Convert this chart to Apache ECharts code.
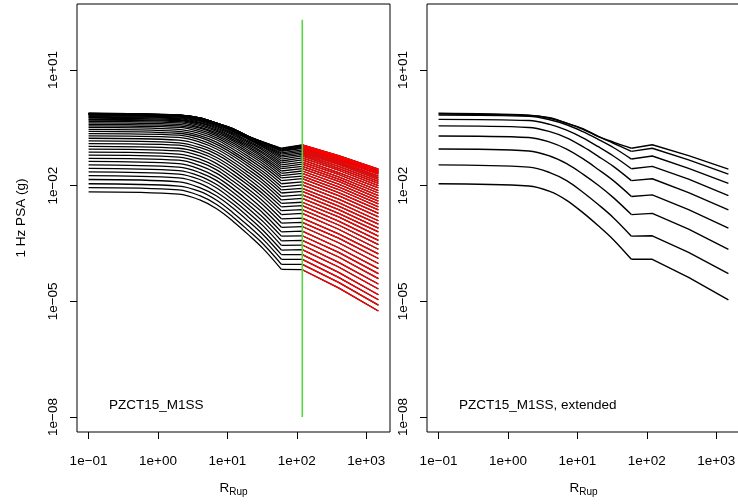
<!DOCTYPE html>
<html>
<head>
<meta charset="utf-8">
<script src="https://cdn.jsdelivr.net/npm/echarts@6/dist/echarts.min.js"></script>
<style>
  html, body { margin: 0; padding: 0; background: #fff; }
  #chart { width: 738px; height: 504px; }
</style>
</head>
<body>
<div id="chart"></div>
<script>
// Rupture distances (km) at which the PSA values are tabulated.
const distances = [0.1, 2, 4, 7, 12, 20, 33, 60, 120, 400, 1500];
// Index of the hinge distance (end of the smooth near-source part).
const hingeIndex = 7;
// Index of the first distance of the extrapolated range (drawn in red).
const extrapStart = 8;
const cutoffDistance = 120;
const cutoffPSA = [1e-8, 200];

// log10 of 1 Hz PSA (g); one row per magnitude, M 3.8 to 8.0 by 0.1.
const leftLogPSA = [
  [-2.16, -2.22, -2.37, -2.60, -2.92, -3.27, -3.64, -4.17, -4.18, -4.65, -5.25],
  [-2.05, -2.11, -2.26, -2.49, -2.81, -3.16, -3.52, -4.04, -4.04, -4.51, -5.10],
  [-1.95, -2.01, -2.15, -2.38, -2.70, -3.04, -3.40, -3.91, -3.91, -4.38, -4.96],
  [-1.84, -1.90, -2.05, -2.27, -2.58, -2.92, -3.28, -3.79, -3.79, -4.25, -4.83],
  [-1.74, -1.80, -1.94, -2.17, -2.47, -2.81, -3.17, -3.67, -3.66, -4.11, -4.68],
  [-1.64, -1.70, -1.84, -2.06, -2.37, -2.70, -3.05, -3.55, -3.54, -3.99, -4.55],
  [-1.55, -1.61, -1.75, -1.97, -2.27, -2.59, -2.94, -3.43, -3.42, -3.85, -4.41],
  [-1.46, -1.52, -1.66, -1.87, -2.17, -2.49, -2.83, -3.31, -3.30, -3.73, -4.28],
  [-1.37, -1.43, -1.57, -1.78, -2.07, -2.39, -2.72, -3.20, -3.18, -3.61, -4.15],
  [-1.29, -1.34, -1.48, -1.68, -1.97, -2.28, -2.62, -3.08, -3.06, -3.48, -4.02],
  [-1.21, -1.26, -1.39, -1.59, -1.88, -2.18, -2.51, -2.97, -2.95, -3.36, -3.89],
  [-1.13, -1.18, -1.31, -1.51, -1.79, -2.09, -2.41, -2.86, -2.84, -3.25, -3.77],
  [-1.05, -1.10, -1.23, -1.43, -1.70, -1.99, -2.31, -2.75, -2.72, -3.13, -3.65],
  [-0.98, -1.03, -1.15, -1.34, -1.61, -1.91, -2.22, -2.65, -2.62, -3.02, -3.53],
  [-0.91, -0.95, -1.08, -1.27, -1.53, -1.82, -2.13, -2.55, -2.52, -2.92, -3.42],
  [-0.84, -0.89, -1.01, -1.19, -1.45, -1.74, -2.04, -2.46, -2.43, -2.81, -3.31],
  [-0.77, -0.82, -0.94, -1.12, -1.38, -1.66, -1.95, -2.37, -2.33, -2.72, -3.20],
  [-0.71, -0.75, -0.87, -1.05, -1.30, -1.58, -1.87, -2.28, -2.24, -2.62, -3.10],
  [-0.65, -0.69, -0.81, -0.99, -1.23, -1.50, -1.79, -2.19, -2.15, -2.53, -3.00],
  [-0.59, -0.64, -0.75, -0.93, -1.17, -1.43, -1.71, -2.11, -2.07, -2.44, -2.91],
  [-0.54, -0.59, -0.70, -0.87, -1.11, -1.37, -1.64, -2.03, -1.98, -2.35, -2.81],
  [-0.49, -0.54, -0.65, -0.81, -1.05, -1.30, -1.57, -1.95, -1.90, -2.26, -2.72],
  [-0.45, -0.49, -0.60, -0.76, -0.99, -1.24, -1.50, -1.87, -1.82, -2.18, -2.63],
  [-0.41, -0.45, -0.55, -0.71, -0.94, -1.18, -1.44, -1.80, -1.75, -2.10, -2.55],
  [-0.37, -0.41, -0.51, -0.67, -0.89, -1.13, -1.38, -1.74, -1.68, -2.03, -2.47],
  [-0.33, -0.37, -0.48, -0.63, -0.84, -1.08, -1.33, -1.68, -1.62, -1.96, -2.40],
  [-0.30, -0.34, -0.44, -0.59, -0.80, -1.03, -1.28, -1.62, -1.56, -1.89, -2.33],
  [-0.28, -0.31, -0.41, -0.56, -0.76, -0.99, -1.23, -1.56, -1.50, -1.83, -2.26],
  [-0.25, -0.29, -0.38, -0.53, -0.73, -0.95, -1.18, -1.51, -1.44, -1.77, -2.19],
  [-0.23, -0.26, -0.36, -0.50, -0.69, -0.91, -1.14, -1.46, -1.39, -1.71, -2.13],
  [-0.21, -0.24, -0.33, -0.47, -0.66, -0.87, -1.09, -1.41, -1.33, -1.66, -2.06],
  [-0.19, -0.22, -0.31, -0.44, -0.63, -0.84, -1.05, -1.36, -1.28, -1.60, -2.00],
  [-0.17, -0.20, -0.29, -0.42, -0.60, -0.80, -1.01, -1.31, -1.23, -1.55, -1.94],
  [-0.16, -0.20, -0.28, -0.41, -0.59, -0.78, -0.99, -1.26, -1.19, -1.50, -1.89],
  [-0.15, -0.19, -0.27, -0.40, -0.57, -0.77, -0.96, -1.22, -1.15, -1.45, -1.84],
  [-0.15, -0.18, -0.26, -0.39, -0.56, -0.75, -0.94, -1.18, -1.11, -1.41, -1.80],
  [-0.14, -0.18, -0.26, -0.39, -0.55, -0.74, -0.92, -1.15, -1.07, -1.37, -1.75],
  [-0.14, -0.18, -0.25, -0.38, -0.54, -0.73, -0.90, -1.11, -1.03, -1.33, -1.70],
  [-0.13, -0.17, -0.25, -0.38, -0.53, -0.72, -0.89, -1.09, -1.01, -1.30, -1.67],
  [-0.13, -0.17, -0.24, -0.38, -0.53, -0.72, -0.88, -1.07, -0.99, -1.27, -1.64],
  [-0.13, -0.17, -0.24, -0.38, -0.52, -0.72, -0.88, -1.05, -0.97, -1.26, -1.62],
  [-0.12, -0.17, -0.24, -0.38, -0.52, -0.72, -0.87, -1.04, -0.95, -1.24, -1.59],
  [-0.12, -0.17, -0.24, -0.38, -0.52, -0.72, -0.87, -1.03, -0.94, -1.22, -1.57]
];

// log10 of 1 Hz PSA (g) for the extended model, M 4.0 to 8.0 by 0.5.
const rightLogPSA = [
  [-1.95, -2.01, -2.15, -2.38, -2.70, -3.04, -3.40, -3.91, -3.91, -4.38, -4.96],
  [-1.46, -1.52, -1.66, -1.87, -2.17, -2.49, -2.83, -3.31, -3.30, -3.73, -4.28],
  [-1.05, -1.10, -1.23, -1.43, -1.70, -1.99, -2.31, -2.75, -2.72, -3.13, -3.65],
  [-0.71, -0.75, -0.87, -1.05, -1.30, -1.58, -1.87, -2.28, -2.24, -2.62, -3.10],
  [-0.45, -0.49, -0.60, -0.76, -0.99, -1.24, -1.50, -1.87, -1.82, -2.18, -2.63],
  [-0.28, -0.31, -0.41, -0.56, -0.76, -0.99, -1.23, -1.56, -1.50, -1.83, -2.26],
  [-0.17, -0.20, -0.29, -0.42, -0.60, -0.80, -1.01, -1.31, -1.23, -1.55, -1.94],
  [-0.14, -0.18, -0.25, -0.38, -0.54, -0.73, -0.90, -1.11, -1.03, -1.33, -1.70],
  [-0.12, -0.17, -0.24, -0.38, -0.52, -0.72, -0.87, -1.03, -0.94, -1.22, -1.57]
];

const xTicks = [0.1, 1, 10, 100, 1000];
const yTicks = [1e-8, 1e-5, 1e-2, 10];
const xRange = [0.0681, 2203];
const yRange = [4.08e-9, 515];

const FONT = '"Liberation Sans", Arial, Helvetica, sans-serif';
const FS = 13.5;

function sci(v) {
  const e = Math.round(Math.log10(v));
  const a = Math.abs(e);
  return '1e' + (e < 0 ? '\u2212' : '+') + (a < 10 ? '0' + a : String(a));
}

function points(row, from, to) {
  const out = [];
  for (let j = from; j <= to; j++) out.push([distances[j], Math.pow(10, row[j])]);
  return out;
}

function xAxisFor(gridIndex) {
  return {
    type: 'log', gridIndex: gridIndex, min: xRange[0], max: xRange[1],
    axisLine: { show: false },
    axisTick: { show: true, length: 7, customValues: xTicks, lineStyle: { color: '#000', width: 1 } },
    axisLabel: { show: true, customValues: xTicks, margin: 22, color: '#000', fontSize: FS, fontFamily: FONT, formatter: sci },
    splitLine: { show: false }, minorTick: { show: false }, minorSplitLine: { show: false },
    name: '{r|R}{s|Rup}', nameLocation: 'middle', nameGap: 49,
    nameTextStyle: {
      rich: {
        r: { fontSize: FS, fontFamily: FONT, color: '#000', lineHeight: 14, verticalAlign: 'top' },
        s: { fontSize: 10, fontFamily: FONT, color: '#000', lineHeight: 16, verticalAlign: 'bottom' }
      }
    }
  };
}

function yAxisFor(gridIndex, withName) {
  const ax = {
    type: 'log', gridIndex: gridIndex, min: yRange[0], max: yRange[1],
    axisLine: { show: false },
    axisTick: { show: true, length: 7, customValues: yTicks, lineStyle: { color: '#000', width: 1 } },
    axisLabel: { show: true, customValues: yTicks, margin: 17, rotate: 90, color: '#000', fontSize: FS, fontFamily: FONT, formatter: sci },
    splitLine: { show: false }, minorTick: { show: false }, minorSplitLine: { show: false }
  };
  if (withName) {
    ax.name = '1 Hz PSA (g)';
    ax.nameLocation = 'middle';
    ax.nameGap = 49;
    ax.nameTextStyle = { fontSize: FS, fontFamily: FONT, color: '#000' };
  }
  return ax;
}

const series = [];
const lineBase = { type: 'line', showSymbol: false, symbol: 'none', silent: true, animation: false, z: 2 };

// One curve: smooth near-source part up to the hinge, straight segments beyond.
function addCurve(row, axisIndex, color, width) {
  series.push(Object.assign({}, lineBase, {
    xAxisIndex: axisIndex, yAxisIndex: axisIndex,
    smooth: 0.35,
    data: points(row, 0, hingeIndex),
    lineStyle: { color: color, width: width }
  }));
  series.push(Object.assign({}, lineBase, {
    xAxisIndex: axisIndex, yAxisIndex: axisIndex,
    data: points(row, hingeIndex, distances.length - 1),
    lineStyle: { color: color, width: width }
  }));
}

// Left panel: full curves in black, the extrapolated range overdrawn in red.
leftLogPSA.forEach(function (row) { addCurve(row, 0, '#000', 1.3); });
leftLogPSA.forEach(function (row) {
  series.push(Object.assign({}, lineBase, {
    xAxisIndex: 0, yAxisIndex: 0, z: 3,
    data: points(row, extrapStart, distances.length - 1),
    lineStyle: { color: '#ff0000', width: 1.3 }
  }));
});
// Distance limit marker.
series.push(Object.assign({}, lineBase, {
  xAxisIndex: 0, yAxisIndex: 0, z: 4,
  data: [[cutoffDistance, cutoffPSA[0]], [cutoffDistance, cutoffPSA[1]]],
  lineStyle: { color: '#55d445', width: 1.6 }
}));

// Right panel: extended model.
rightLogPSA.forEach(function (row) { addCurve(row, 1, '#000', 1.4); });

const chart = echarts.init(document.getElementById('chart'), null, { renderer: 'canvas' });
chart.setOption({
  animation: false,
  backgroundColor: '#fff',
  grid: [
    { left: 77, top: 4, width: 313, height: 428, show: true, borderColor: '#000', borderWidth: 1, backgroundColor: 'transparent', containLabel: false, outerBoundsMode: 'none' },
    { left: 427, top: 4, width: 313, height: 428, show: true, borderColor: '#000', borderWidth: 1, backgroundColor: 'transparent', containLabel: false, outerBoundsMode: 'none' }
  ],
  xAxis: [xAxisFor(0), xAxisFor(1)],
  yAxis: [yAxisFor(0, true), yAxisFor(1, false)],
  graphic: [
    { type: 'text', left: 109, top: 398, silent: true, style: { text: 'PZCT15_M1SS', font: FS + 'px ' + FONT, fill: '#000' } },
    { type: 'text', left: 459, top: 398, silent: true, style: { text: 'PZCT15_M1SS, extended', font: FS + 'px ' + FONT, fill: '#000' } }
  ],
  series: series
});
</script>
</body>
</html>
